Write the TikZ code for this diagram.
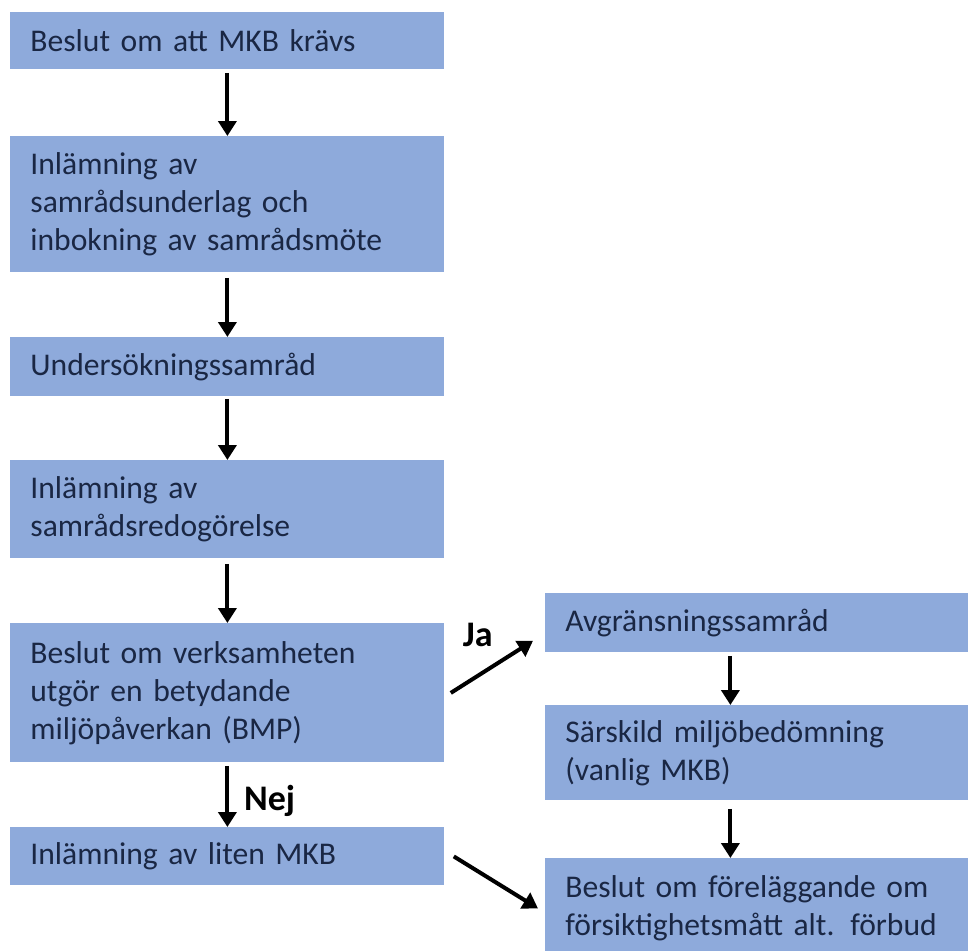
\documentclass[tikz,border=0pt]{standalone}
\usepackage{fontspec}
\setmainfont{Carlito}
\usepackage{tikz}
\usetikzlibrary{arrows.meta,calc}
\definecolor{boxblue}{HTML}{8EAADB}
\definecolor{boxtext}{HTML}{1A2744}

\begin{document}
\begin{tikzpicture}[
        box/.style={fill=boxblue, text=boxtext, anchor=north west, align=left, inner xsep=10pt, inner ysep=0pt, font=\fontsize{15.8}{19}\selectfont},
        lbox/.style={box, minimum width=217pt, text width=197pt},
        rbox/.style={box, minimum width=211.5pt, text width=191.5pt},
        pil/.style={-{Triangle[width=9pt,length=7.5pt]}, line width=2pt},
        svar/.style={font=\bfseries\fontsize{18}{20}\selectfont}
    ]
        \useasboundingbox (0,0) rectangle (485.5pt,-475pt);

        % vanster kolumn
        \node[lbox, minimum height=28.5pt] (krav) at (5pt,-6pt) {Beslut om att MKB krävs};
        \node[lbox, minimum height=68pt] (inlamning) at (5pt,-68pt) {Inlämning av\\samrådsunderlag och\\inbokning av samrådsmöte};
        \node[lbox, minimum height=29.5pt] (undersokning) at (5pt,-168.5pt) {Undersökningssamråd};
        \node[lbox, minimum height=49pt] (redogorelse) at (5pt,-230pt) {Inlämning av\\samrådsredogörelse};
        \node[lbox, minimum height=69.5pt] (bmp) at (5pt,-311.5pt) {Beslut om verksamheten\\utgör en betydande\\miljöpåverkan (BMP)};
        \node[lbox, minimum height=29pt] (liten) at (5pt,-413.5pt) {Inlämning av liten MKB};

        % hoger kolumn
        \node[rbox, minimum height=29.5pt] (avgr) at (272.5pt,-296.5pt) {Avgränsningssamråd};
        \node[rbox, minimum height=47.5pt] (sarskild) at (272.5pt,-352.5pt) {Särskild miljöbedömning\\(vanlig MKB)};
        \node[rbox, minimum height=50pt] (beslut) at (272.5pt,-429pt) {Beslut om föreläggande om\\försiktighetsmått alt. förbud};

        \draw[pil, shorten <=1.5pt] (krav) -- (inlamning);
        \draw[pil, shorten <=2.5pt] (inlamning) -- (undersokning);
        \draw[pil, shorten <=1pt] (undersokning) -- (redogorelse);
        \draw[pil, shorten <=2.5pt] (redogorelse) -- (bmp);
        \draw[pil, shorten <=1.5pt] (bmp) -- node[svar, right=4pt, pos=0.6] (nej) {Nej} (liten);

        \node[svar] (ja) at ($(bmp.north east)+(16.5pt,-6pt)$) {Ja};
        \draw[pil] ([xshift=3pt]bmp.east) -- ($(avgr.south west)+(-6pt,6pt)$);
        \draw[pil] ([xshift=4.5pt]liten.east) -- ([xshift=-3.5pt]beslut.west);

        \draw[pil, shorten <=1.5pt] ([xshift=-13.25pt]avgr.south) -- ([xshift=-13.25pt]sarskild.north);
        \draw[pil, shorten <=4pt] ([xshift=-13.25pt]sarskild.south) -- ([xshift=-13.25pt]beslut.north);
    \end{tikzpicture}
\end{document}
